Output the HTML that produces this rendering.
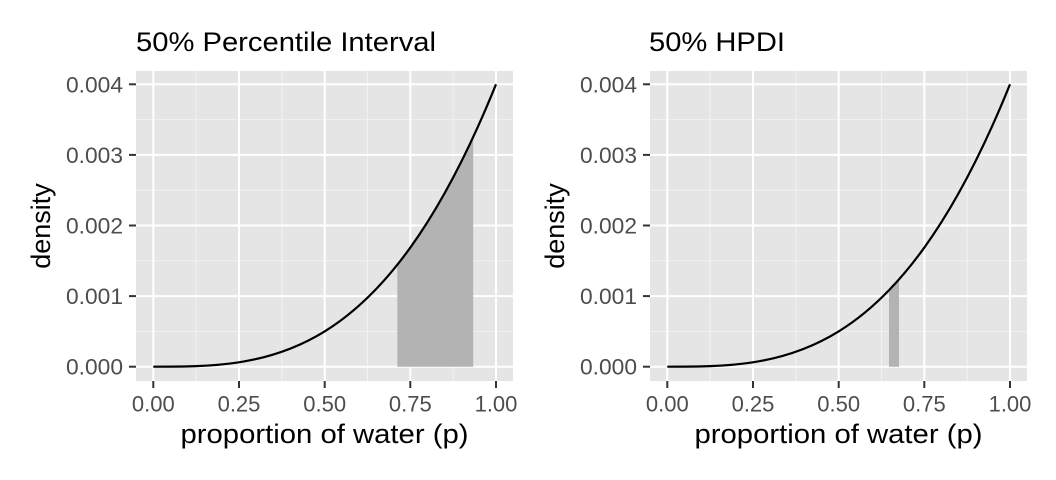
<!DOCTYPE html>
<html><head><meta charset="utf-8"><style>html,body{margin:0;padding:0;background:#fff}svg{display:block}</style></head>
<body>
<svg width="1056" height="480" viewBox="0 0 1056 480" xmlns="http://www.w3.org/2000/svg" font-family="Liberation Sans, sans-serif">
<defs>
<g id="panel">
  <rect x="136" y="71" width="377" height="310" fill="#e5e5e5"/>
  <g stroke="#f2f2f2" stroke-width="1">
    <line x1="136" x2="513" y1="331.4" y2="331.4"/><line x1="136" x2="513" y1="260.8" y2="260.8"/>
    <line x1="136" x2="513" y1="190.2" y2="190.2"/><line x1="136" x2="513" y1="119.6" y2="119.6"/>
    <line y1="71" y2="381" x1="196.1" x2="196.1"/><line y1="71" y2="381" x1="281.8" x2="281.8"/>
    <line y1="71" y2="381" x1="367.5" x2="367.5"/><line y1="71" y2="381" x1="453.2" x2="453.2"/>
  </g>
  <g stroke="#fff" stroke-width="2">
    <line x1="136" x2="513" y1="366.7" y2="366.7"/><line x1="136" x2="513" y1="296.1" y2="296.1"/>
    <line x1="136" x2="513" y1="225.5" y2="225.5"/><line x1="136" x2="513" y1="154.9" y2="154.9"/>
    <line x1="136" x2="513" y1="84.3" y2="84.3"/>
    <line y1="71" y2="381" x1="153.3" x2="153.3"/><line y1="71" y2="381" x1="239" x2="239"/>
    <line y1="71" y2="381" x1="324.7" x2="324.7"/><line y1="71" y2="381" x1="410.3" x2="410.3"/>
    <line y1="71" y2="381" x1="496" x2="496"/>
  </g>
  <g stroke="#333" stroke-width="2">
    <line x1="129" x2="136" y1="366.7" y2="366.7"/><line x1="129" x2="136" y1="296.1" y2="296.1"/>
    <line x1="129" x2="136" y1="225.5" y2="225.5"/><line x1="129" x2="136" y1="154.9" y2="154.9"/>
    <line x1="129" x2="136" y1="84.3" y2="84.3"/>
    <line y1="381" y2="388" x1="153.3" x2="153.3"/><line y1="381" y2="388" x1="239" x2="239"/>
    <line y1="381" y2="388" x1="324.7" x2="324.7"/><line y1="381" y2="388" x1="410.3" x2="410.3"/>
    <line y1="381" y2="388" x1="496" x2="496"/>
  </g>
  <g fill="#4d4d4d" font-size="22" text-anchor="end">
    <text x="123" y="374.7" textLength="57" lengthAdjust="spacingAndGlyphs">0.000</text><text x="123" y="304.1" textLength="57" lengthAdjust="spacingAndGlyphs">0.001</text>
    <text x="123" y="233.5" textLength="57" lengthAdjust="spacingAndGlyphs">0.002</text><text x="123" y="162.9" textLength="57" lengthAdjust="spacingAndGlyphs">0.003</text>
    <text x="123" y="92.3" textLength="57" lengthAdjust="spacingAndGlyphs">0.004</text>
  </g>
  <g fill="#4d4d4d" font-size="22" text-anchor="middle">
    <text x="153.3" y="411.7">0.00</text><text x="239" y="411.7">0.25</text>
    <text x="324.7" y="411.7">0.50</text><text x="410.3" y="411.7">0.75</text>
    <text x="496" y="411.7">1.00</text>
  </g>
  <text x="180.5" y="443" font-size="27" textLength="288" lengthAdjust="spacingAndGlyphs" fill="#000">proportion of water (p)</text>
  <text transform="translate(50,226) rotate(-90)" font-size="27" text-anchor="middle" fill="#000">density</text>
</g>
</defs>
<use href="#panel"/>
<use href="#panel" transform="translate(514,0)"/>
<polygon fill="#b3b3b3" points="397.3,366.7 397.3,264.8 410.3,247.6 427.5,222.1 444.6,193.3 461.7,160.8 473.2,137 473.2,366.7"/>
<polygon fill="#b3b3b3" points="889,366.7 889,290.2 899,279.5 899,366.7"/>
<path d="M153.3,366.7 C267.5,366.7 381.8,366.7 496,84.3" fill="none" stroke="#000" stroke-width="2.2"/>
<path d="M667.3,366.7 C781.5,366.7 895.8,366.7 1010,84.3" fill="none" stroke="#000" stroke-width="2.2"/>
<text x="136" y="51" font-size="27" textLength="300" lengthAdjust="spacingAndGlyphs" fill="#000">50% Percentile Interval</text>
<text x="649" y="51" font-size="27" textLength="136" lengthAdjust="spacingAndGlyphs" fill="#000">50% HPDI</text>
</svg>
</body></html>
